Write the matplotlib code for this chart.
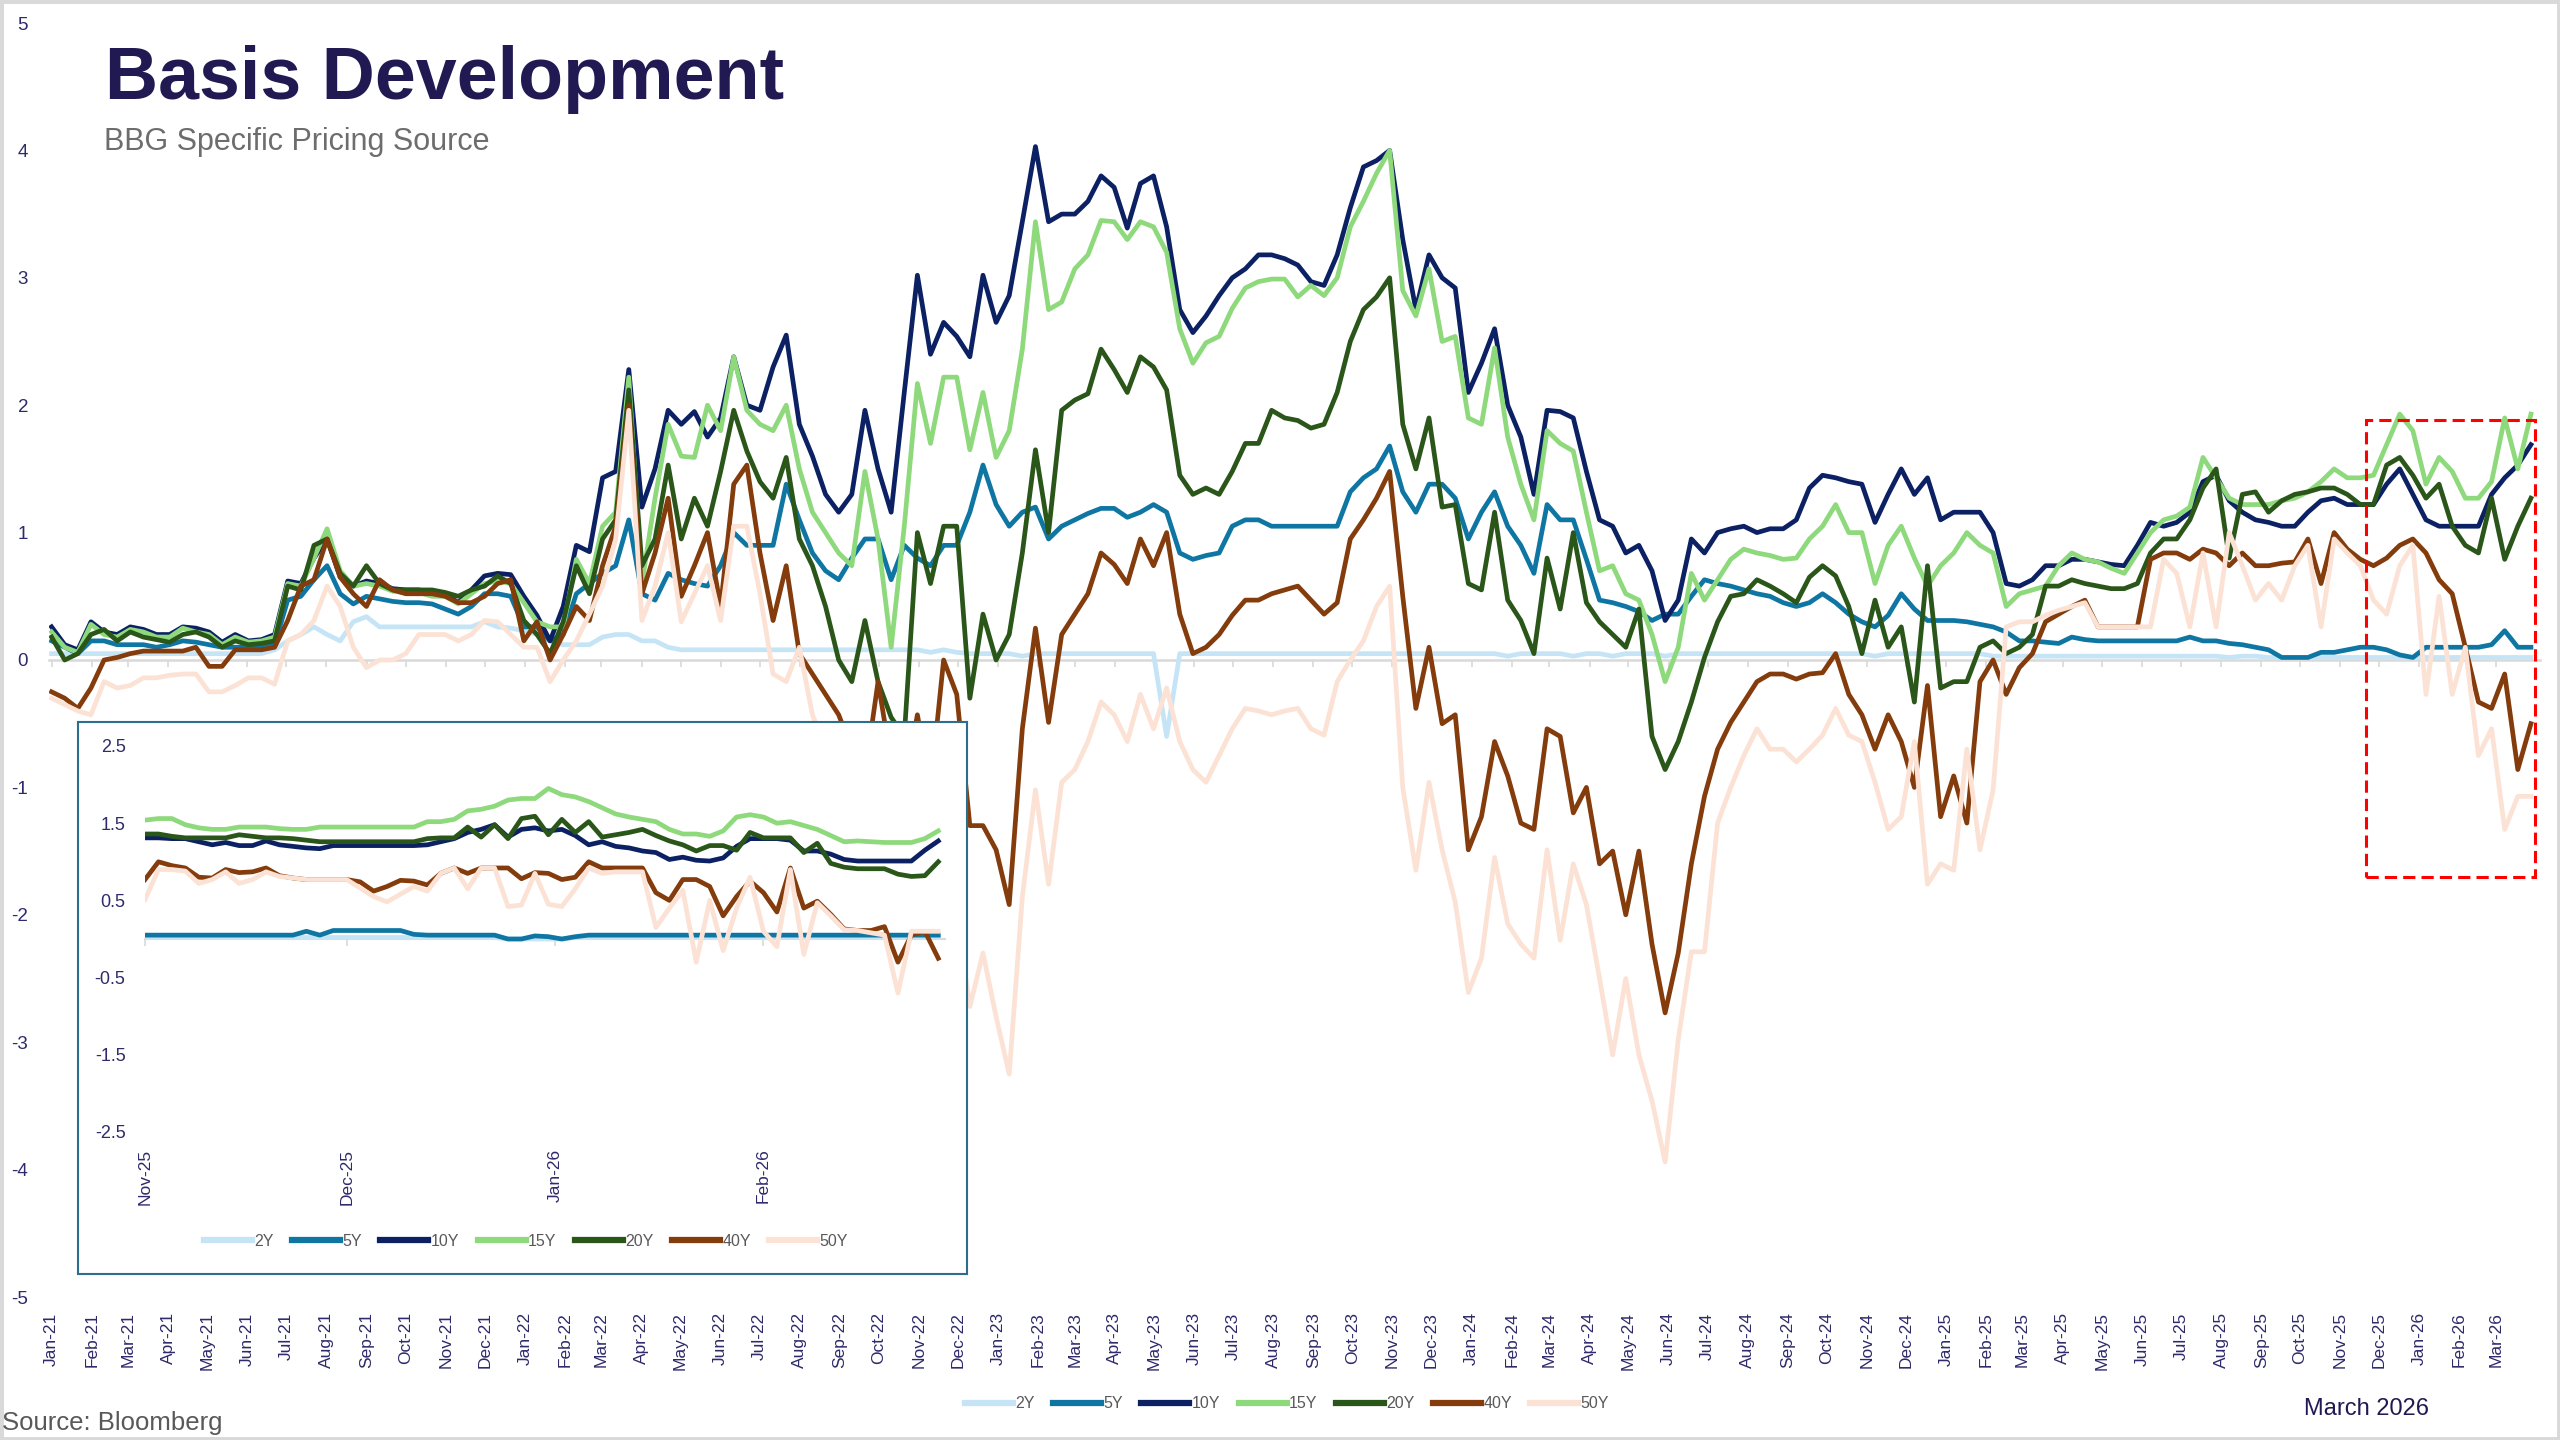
import pandas as pd
import numpy as np
import matplotlib
matplotlib.use('Agg')
import matplotlib.pyplot as plt
import matplotlib.dates as mdates
from matplotlib.patches import Rectangle

plt.rcParams['font.family'] = ['Liberation Sans', 'DejaVu Sans']
plt.rcParams['axes.unicode_minus'] = False

# %%
# Main chart: basis (bp) per tenor, ~3 readings per month, Jan-21 .. end Mar-26
tenors = ['2Y', '5Y', '10Y', '15Y', '20Y', '40Y', '50Y']
colors = ['#C5E5F6', '#0F76A3', '#0B2163', '#8ED97B', '#2A5619', '#843C0C', '#FBE2D5']
main_start = '2021-01-01'
main_end = '2026-03-28'

basis_2y = [
    0.05, 0.05, 0.05, 0.05, 0.05, 0.05, 0.05, 0.05, 0.05, 0.05, 0.05, 0.05, 0.05, 0.05, 0.05, 0.05, 0.05, 0.08,
    0.15, 0.20, 0.26, 0.20, 0.15, 0.30, 0.34, 0.26, 0.26, 0.26, 0.26, 0.26, 0.26, 0.26, 0.26, 0.30, 0.26, 0.25,
    0.23, 0.20, 0.15, 0.12, 0.12, 0.12, 0.18, 0.20, 0.20, 0.15, 0.15, 0.10, 0.08, 0.08, 0.08, 0.08, 0.08, 0.08,
    0.08, 0.08, 0.08, 0.08, 0.08, 0.08, 0.08, 0.08, 0.08, 0.08, 0.08, 0.08, 0.08, 0.06, 0.08, 0.06, 0.05, 0.05,
    0.05, 0.05, 0.03, 0.05, 0.05, 0.05, 0.05, 0.05, 0.05, 0.05, 0.05, 0.05, 0.05, -0.60, 0.05, 0.05, 0.05, 0.05,
    0.05, 0.05, 0.05, 0.05, 0.05, 0.05, 0.05, 0.05, 0.05, 0.05, 0.05, 0.05, 0.05, 0.05, 0.05, 0.05, 0.05, 0.05,
    0.05, 0.05, 0.05, 0.03, 0.05, 0.05, 0.05, 0.05, 0.03, 0.05, 0.05, 0.03, 0.05, 0.05, 0.05, 0.03, 0.05, 0.05,
    0.05, 0.05, 0.05, 0.05, 0.05, 0.05, 0.05, 0.05, 0.05, 0.05, 0.05, 0.05, 0.05, 0.03, 0.05, 0.05, 0.05, 0.05,
    0.05, 0.05, 0.05, 0.05, 0.03, 0.03, 0.03, 0.03, 0.03, 0.03, 0.03, 0.03, 0.03, 0.03, 0.03, 0.03, 0.03, 0.03,
    0.03, 0.03, 0.03, 0.03, 0.02, 0.03, 0.03, 0.02, 0.02, 0.02, 0.02, 0.02, 0.02, 0.02, 0.02, 0.02, 0.02, 0.02,
    0.02, 0.02, 0.02, 0.02, 0.02, 0.02, 0.02, 0.02, 0.02, 0.02]

basis_5y = [
    0.15, 0.10, 0.05, 0.15, 0.15, 0.12, 0.12, 0.12, 0.10, 0.12, 0.15, 0.14, 0.12, 0.10, 0.10, 0.10, 0.10, 0.12,
    0.47, 0.50, 0.63, 0.74, 0.52, 0.44, 0.50, 0.48, 0.46, 0.45, 0.45, 0.44, 0.40, 0.36, 0.42, 0.52, 0.52, 0.50,
    0.26, 0.26, 0.15, 0.20, 0.52, 0.60, 0.68, 0.74, 1.10, 0.52, 0.47, 0.68, 0.63, 0.60, 0.58, 0.74, 1.00, 0.90,
    0.90, 0.90, 1.38, 1.10, 0.84, 0.70, 0.63, 0.80, 0.95, 0.95, 0.63, 0.90, 0.80, 0.74, 0.90, 0.90, 1.16, 1.53,
    1.22, 1.05, 1.16, 1.20, 0.95, 1.05, 1.10, 1.15, 1.19, 1.19, 1.12, 1.16, 1.22, 1.16, 0.84, 0.79, 0.82, 0.84,
    1.05, 1.10, 1.10, 1.05, 1.05, 1.05, 1.05, 1.05, 1.05, 1.32, 1.43, 1.50, 1.68, 1.32, 1.16, 1.38, 1.38, 1.27,
    0.95, 1.16, 1.32, 1.05, 0.90, 0.68, 1.22, 1.10, 1.10, 0.79, 0.47, 0.45, 0.42, 0.38, 0.31, 0.36, 0.36, 0.50,
    0.63, 0.60, 0.58, 0.55, 0.52, 0.50, 0.45, 0.42, 0.45, 0.52, 0.45, 0.36, 0.30, 0.26, 0.35, 0.52, 0.40, 0.31,
    0.31, 0.31, 0.30, 0.28, 0.26, 0.22, 0.15, 0.15, 0.14, 0.13, 0.18, 0.16, 0.15, 0.15, 0.15, 0.15, 0.15, 0.15,
    0.15, 0.18, 0.15, 0.15, 0.13, 0.12, 0.10, 0.08, 0.02, 0.02, 0.02, 0.06, 0.06, 0.08, 0.10, 0.10, 0.08, 0.04,
    0.02, 0.10, 0.10, 0.10, 0.10, 0.10, 0.12, 0.23, 0.10, 0.10]

basis_10y = [
    0.26, 0.12, 0.08, 0.30, 0.22, 0.20, 0.26, 0.24, 0.20, 0.20, 0.26, 0.25, 0.22, 0.14, 0.20, 0.15, 0.16, 0.20,
    0.62, 0.60, 0.80, 0.95, 0.65, 0.58, 0.62, 0.60, 0.56, 0.55, 0.55, 0.52, 0.52, 0.45, 0.55, 0.66, 0.68, 0.67,
    0.50, 0.35, 0.15, 0.42, 0.90, 0.85, 1.43, 1.48, 2.28, 1.20, 1.50, 1.96, 1.85, 1.95, 1.75, 1.90, 2.38, 2.00,
    1.96, 2.30, 2.55, 1.85, 1.60, 1.30, 1.16, 1.30, 1.96, 1.50, 1.16, 2.10, 3.02, 2.40, 2.65, 2.54, 2.38, 3.02,
    2.65, 2.86, 3.44, 4.03, 3.44, 3.50, 3.50, 3.60, 3.80, 3.71, 3.39, 3.74, 3.80, 3.40, 2.75, 2.57, 2.70, 2.86,
    3.00, 3.07, 3.18, 3.18, 3.15, 3.10, 2.97, 2.94, 3.18, 3.55, 3.87, 3.92, 4.00, 3.30, 2.75, 3.18, 3.00, 2.92,
    2.10, 2.33, 2.60, 2.00, 1.75, 1.30, 1.96, 1.95, 1.90, 1.48, 1.10, 1.05, 0.84, 0.90, 0.70, 0.31, 0.47, 0.95,
    0.84, 1.00, 1.03, 1.05, 1.00, 1.03, 1.03, 1.10, 1.35, 1.45, 1.43, 1.40, 1.38, 1.08, 1.30, 1.50, 1.30, 1.43,
    1.10, 1.16, 1.16, 1.16, 1.00, 0.60, 0.58, 0.63, 0.74, 0.74, 0.79, 0.79, 0.77, 0.75, 0.74, 0.90, 1.08, 1.05,
    1.08, 1.16, 1.40, 1.45, 1.25, 1.16, 1.10, 1.08, 1.05, 1.05, 1.16, 1.25, 1.27, 1.22, 1.22, 1.22, 1.38, 1.50,
    1.30, 1.10, 1.05, 1.05, 1.05, 1.05, 1.30, 1.43, 1.53, 1.69]

basis_15y = [
    0.22, 0.10, 0.06, 0.28, 0.20, 0.18, 0.24, 0.22, 0.18, 0.18, 0.25, 0.22, 0.20, 0.12, 0.18, 0.14, 0.15, 0.18,
    0.60, 0.58, 0.80, 1.03, 0.70, 0.58, 0.60, 0.58, 0.54, 0.53, 0.53, 0.50, 0.50, 0.44, 0.52, 0.60, 0.62, 0.60,
    0.45, 0.30, 0.26, 0.26, 0.79, 0.60, 1.05, 1.16, 2.22, 0.60, 1.27, 1.85, 1.60, 1.59, 2.00, 1.80, 2.38, 1.96,
    1.85, 1.80, 2.00, 1.50, 1.16, 1.00, 0.84, 0.74, 1.48, 0.95, 0.10, 1.05, 2.17, 1.70, 2.22, 2.22, 1.65, 2.10,
    1.59, 1.80, 2.44, 3.44, 2.75, 2.81, 3.07, 3.18, 3.45, 3.44, 3.30, 3.44, 3.40, 3.20, 2.60, 2.33, 2.49, 2.54,
    2.76, 2.92, 2.97, 2.99, 2.99, 2.85, 2.94, 2.86, 3.00, 3.40, 3.60, 3.82, 4.00, 2.90, 2.70, 3.07, 2.50, 2.54,
    1.90, 1.85, 2.45, 1.75, 1.38, 1.10, 1.80, 1.70, 1.64, 1.16, 0.70, 0.74, 0.52, 0.47, 0.20, -0.17, 0.10, 0.68,
    0.47, 0.63, 0.79, 0.87, 0.84, 0.82, 0.79, 0.80, 0.95, 1.05, 1.22, 1.00, 1.00, 0.60, 0.90, 1.05, 0.80, 0.58,
    0.74, 0.84, 1.00, 0.90, 0.84, 0.42, 0.52, 0.55, 0.58, 0.74, 0.84, 0.79, 0.77, 0.72, 0.68, 0.84, 1.00, 1.10,
    1.13, 1.20, 1.59, 1.43, 1.27, 1.22, 1.22, 1.22, 1.25, 1.27, 1.32, 1.40, 1.50, 1.43, 1.43, 1.45, 1.69, 1.93,
    1.80, 1.38, 1.59, 1.48, 1.27, 1.27, 1.40, 1.90, 1.50, 1.93]

basis_20y = [
    0.18, 0.00, 0.05, 0.20, 0.24, 0.15, 0.22, 0.18, 0.16, 0.14, 0.20, 0.22, 0.18, 0.10, 0.15, 0.12, 0.13, 0.15,
    0.58, 0.55, 0.90, 0.95, 0.68, 0.58, 0.74, 0.60, 0.55, 0.55, 0.55, 0.55, 0.53, 0.50, 0.55, 0.58, 0.66, 0.60,
    0.31, 0.20, 0.05, 0.30, 0.74, 0.52, 0.95, 1.10, 2.12, 0.74, 0.95, 1.53, 0.95, 1.27, 1.05, 1.48, 1.96, 1.64,
    1.40, 1.27, 1.59, 0.95, 0.74, 0.42, 0.00, -0.17, 0.31, -0.17, -0.45, -0.60, 1.00, 0.60, 1.05, 1.05, -0.30, 0.36,
    0.00, 0.20, 0.84, 1.65, 1.00, 1.96, 2.04, 2.09, 2.44, 2.28, 2.10, 2.38, 2.30, 2.12, 1.45, 1.30, 1.35, 1.30,
    1.48, 1.70, 1.70, 1.96, 1.90, 1.88, 1.82, 1.85, 2.10, 2.50, 2.75, 2.85, 3.00, 1.85, 1.50, 1.90, 1.20, 1.22,
    0.60, 0.55, 1.16, 0.47, 0.31, 0.05, 0.80, 0.40, 1.00, 0.45, 0.30, 0.20, 0.10, 0.40, -0.60, -0.86, -0.64, -0.33,
    0.02, 0.30, 0.50, 0.52, 0.63, 0.58, 0.52, 0.45, 0.65, 0.74, 0.66, 0.42, 0.05, 0.47, 0.10, 0.26, -0.33, 0.74,
    -0.22, -0.17, -0.17, 0.10, 0.15, 0.05, 0.10, 0.20, 0.58, 0.58, 0.63, 0.60, 0.58, 0.56, 0.56, 0.60, 0.84, 0.95,
    0.95, 1.10, 1.35, 1.50, 0.80, 1.30, 1.32, 1.16, 1.25, 1.30, 1.32, 1.35, 1.35, 1.30, 1.22, 1.22, 1.53, 1.59,
    1.45, 1.27, 1.38, 1.05, 0.90, 0.84, 1.27, 0.79, 1.05, 1.27]

basis_40y = [
    -0.25, -0.30, -0.38, -0.22, 0.00, 0.02, 0.05, 0.07, 0.07, 0.07, 0.07, 0.10, -0.05, -0.05, 0.08, 0.08, 0.08, 0.10,
    0.31, 0.58, 0.63, 0.95, 0.65, 0.52, 0.42, 0.63, 0.55, 0.52, 0.52, 0.52, 0.50, 0.45, 0.45, 0.50, 0.60, 0.63,
    0.15, 0.30, 0.00, 0.20, 0.42, 0.31, 0.74, 1.05, 2.00, 0.52, 0.84, 1.27, 0.50, 0.74, 1.00, 0.42, 1.38, 1.53,
    0.84, 0.31, 0.74, 0.05, -0.11, -0.27, -0.43, -0.70, -0.90, -0.17, -0.80, -1.00, -0.43, -1.00, 0.00, -0.27, -1.30, -1.30,
    -1.49, -1.92, -0.54, 0.25, -0.49, 0.20, 0.36, 0.52, 0.84, 0.75, 0.60, 0.95, 0.74, 1.00, 0.36, 0.05, 0.10, 0.20,
    0.35, 0.47, 0.47, 0.52, 0.55, 0.58, 0.47, 0.36, 0.45, 0.95, 1.10, 1.27, 1.48, 0.50, -0.38, 0.10, -0.50, -0.43,
    -1.49, -1.23, -0.64, -0.91, -1.28, -1.33, -0.54, -0.60, -1.20, -1.00, -1.60, -1.50, -2.00, -1.50, -2.23, -2.77, -2.30, -1.60,
    -1.07, -0.70, -0.49, -0.33, -0.17, -0.11, -0.11, -0.15, -0.11, -0.10, 0.05, -0.27, -0.43, -0.70, -0.43, -0.64, -1.00, -0.20,
    -1.23, -0.91, -1.28, -0.17, 0.00, -0.27, -0.06, 0.05, 0.30, 0.36, 0.42, 0.47, 0.26, 0.26, 0.26, 0.26, 0.79, 0.84,
    0.84, 0.79, 0.87, 0.84, 0.74, 0.84, 0.74, 0.74, 0.76, 0.77, 0.95, 0.60, 1.00, 0.87, 0.79, 0.74, 0.80, 0.90,
    0.95, 0.84, 0.63, 0.52, 0.10, -0.33, -0.38, -0.11, -0.86, -0.50]

basis_50y = [
    -0.30, -0.35, -0.40, -0.43, -0.17, -0.22, -0.20, -0.14, -0.14, -0.12, -0.11, -0.11, -0.25, -0.25, -0.20, -0.14, -0.14, -0.19,
    0.15, 0.20, 0.31, 0.58, 0.42, 0.10, -0.06, 0.00, 0.00, 0.05, 0.20, 0.20, 0.20, 0.15, 0.20, 0.31, 0.30, 0.20,
    0.10, 0.10, -0.17, 0.00, 0.15, 0.36, 0.58, 0.95, 1.96, 0.31, 0.58, 1.00, 0.30, 0.52, 0.74, 0.31, 1.05, 1.05,
    0.52, -0.11, -0.17, 0.10, -0.43, -0.70, -0.80, -1.00, -0.90, -1.10, -1.30, -1.20, -1.40, -1.50, -1.60, -2.00, -2.72, -2.30,
    -2.80, -3.25, -1.86, -1.02, -1.76, -0.96, -0.86, -0.64, -0.33, -0.43, -0.64, -0.27, -0.54, -0.22, -0.64, -0.86, -0.96, -0.75,
    -0.54, -0.38, -0.40, -0.43, -0.40, -0.38, -0.54, -0.59, -0.17, 0.00, 0.15, 0.42, 0.58, -1.00, -1.65, -0.96, -1.49, -1.90,
    -2.61, -2.34, -1.55, -2.07, -2.23, -2.34, -1.49, -2.20, -1.60, -1.92, -2.50, -3.10, -2.50, -3.10, -3.46, -3.94, -2.98, -2.29,
    -2.29, -1.28, -1.00, -0.75, -0.54, -0.70, -0.70, -0.80, -0.70, -0.59, -0.38, -0.59, -0.64, -0.96, -1.33, -1.23, -0.64, -1.76,
    -1.60, -1.65, -0.70, -1.49, -1.02, 0.26, 0.30, 0.30, 0.35, 0.39, 0.42, 0.45, 0.26, 0.26, 0.26, 0.26, 0.26, 0.79,
    0.68, 0.26, 0.84, 0.26, 1.00, 0.74, 0.47, 0.60, 0.47, 0.74, 0.90, 0.26, 0.95, 0.84, 0.74, 0.47, 0.36, 0.74,
    0.90, -0.27, 0.50, -0.27, 0.10, -0.75, -0.54, -1.33, -1.07, -1.07]

main_series = [basis_2y, basis_5y, basis_10y, basis_15y, basis_20y, basis_40y, basis_50y]

# Inset: every second day, 1 Nov 2025 .. 27 Feb 2026
zoom_start = '2025-11-01'
zoom_end = '2026-02-27'

zoom_2y = [
    0.02, 0.02, 0.02, 0.02, 0.02, 0.02, 0.02, 0.02, 0.02, 0.02, 0.02, 0.02, 0.02, 0.02, 0.02,
    0.02, 0.02, 0.02, 0.02, 0.02, 0.02, 0.02, 0.02, 0.02, 0.02, 0.02, 0.02, 0.00, 0.00, 0.00,
    0.00, 0.00, 0.02, 0.02, 0.02, 0.02, 0.02, 0.02, 0.02, 0.02, 0.02, 0.02, 0.02, 0.02, 0.02,
    0.02, 0.02, 0.02, 0.02, 0.02, 0.02, 0.02, 0.02, 0.02, 0.02, 0.02, 0.02, 0.02, 0.02, 0.02]
zoom_5y = [
    0.05, 0.05, 0.05, 0.05, 0.05, 0.05, 0.05, 0.05, 0.05, 0.05, 0.05, 0.05, 0.10, 0.05, 0.11,
    0.11, 0.11, 0.11, 0.11, 0.11, 0.06, 0.05, 0.05, 0.05, 0.05, 0.05, 0.05, 0.00, 0.00, 0.04,
    0.03, 0.00, 0.03, 0.05, 0.05, 0.05, 0.05, 0.05, 0.05, 0.05, 0.05, 0.05, 0.05, 0.05, 0.05,
    0.05, 0.05, 0.05, 0.05, 0.05, 0.05, 0.05, 0.05, 0.05, 0.05, 0.05, 0.05, 0.05, 0.05, 0.05]
zoom_10y = [
    1.31, 1.31, 1.30, 1.30, 1.26, 1.22, 1.25, 1.21, 1.21, 1.27, 1.22, 1.20, 1.18, 1.17, 1.21,
    1.21, 1.21, 1.21, 1.21, 1.21, 1.21, 1.22, 1.26, 1.30, 1.38, 1.42, 1.48, 1.32, 1.42, 1.44,
    1.40, 1.42, 1.34, 1.22, 1.26, 1.20, 1.18, 1.14, 1.12, 1.03, 1.06, 1.02, 1.01, 1.05, 1.20,
    1.30, 1.30, 1.30, 1.28, 1.14, 1.14, 1.10, 1.03, 1.01, 1.01, 1.01, 1.01, 1.01, 1.15, 1.27]
zoom_15y = [
    1.54, 1.56, 1.56, 1.48, 1.44, 1.42, 1.42, 1.45, 1.45, 1.45, 1.43, 1.42, 1.42, 1.45, 1.45,
    1.45, 1.45, 1.45, 1.45, 1.45, 1.45, 1.52, 1.52, 1.55, 1.66, 1.68, 1.72, 1.80, 1.82, 1.82,
    1.95, 1.87, 1.84, 1.78, 1.70, 1.62, 1.58, 1.55, 1.52, 1.42, 1.36, 1.36, 1.33, 1.40, 1.58,
    1.61, 1.58, 1.50, 1.52, 1.47, 1.42, 1.34, 1.26, 1.27, 1.26, 1.25, 1.25, 1.25, 1.30, 1.40]
zoom_20y = [
    1.36, 1.36, 1.33, 1.31, 1.31, 1.31, 1.31, 1.35, 1.33, 1.31, 1.31, 1.30, 1.28, 1.26, 1.26,
    1.26, 1.26, 1.26, 1.26, 1.26, 1.26, 1.30, 1.31, 1.31, 1.45, 1.32, 1.48, 1.30, 1.56, 1.59,
    1.35, 1.55, 1.38, 1.52, 1.32, 1.35, 1.38, 1.42, 1.34, 1.27, 1.22, 1.14, 1.21, 1.21, 1.15,
    1.38, 1.31, 1.31, 1.31, 1.12, 1.24, 0.98, 0.93, 0.91, 0.91, 0.91, 0.84, 0.81, 0.82, 1.00]
zoom_40y = [
    0.77, 1.00, 0.95, 0.92, 0.80, 0.79, 0.90, 0.86, 0.87, 0.92, 0.82, 0.79, 0.77, 0.77, 0.77,
    0.77, 0.74, 0.62, 0.68, 0.76, 0.75, 0.70, 0.85, 0.92, 0.85, 0.92, 0.92, 0.92, 0.78, 0.86,
    0.85, 0.77, 0.80, 1.00, 0.92, 0.92, 0.92, 0.92, 0.60, 0.50, 0.77, 0.77, 0.68, 0.30, 0.55,
    0.75, 0.60, 0.35, 0.92, 0.40, 0.49, 0.32, 0.13, 0.11, 0.11, 0.16, -0.30, 0.05, 0.10, -0.25]
zoom_50y = [
    0.51, 0.90, 0.90, 0.88, 0.72, 0.77, 0.87, 0.72, 0.77, 0.87, 0.81, 0.79, 0.77, 0.77, 0.77,
    0.77, 0.66, 0.55, 0.48, 0.58, 0.68, 0.62, 0.85, 0.92, 0.65, 0.92, 0.92, 0.42, 0.44, 0.85,
    0.45, 0.42, 0.65, 0.92, 0.85, 0.87, 0.87, 0.87, 0.15, 0.40, 0.63, -0.30, 0.50, -0.15, 0.40,
    0.80, 0.10, -0.10, 0.90, -0.20, 0.47, 0.30, 0.12, 0.11, 0.08, 0.05, -0.70, 0.10, 0.10, 0.10]

zoom_series = [zoom_2y, zoom_5y, zoom_10y, zoom_15y, zoom_20y, zoom_40y, zoom_50y]

# highlighted window on the main chart (dates, value range)
box_start, box_end = '2025-11-21', '2026-03-31'
box_low, box_high = -1.70, 1.88

month_ticks = pd.date_range('2021-01-01', '2026-03-01', freq='MS')
zoom_ticks = pd.date_range('2025-11-01', '2026-02-01', freq='MS')
zoom_yticks = [-2.5, -1.5, -0.5, 0.5, 1.5, 2.5]

# %%
W, H = 2560, 1440
tick_col = '#2E2A6B'
grey_txt = '#595959'
zero_col = '#D9D9D9'


def px_box(x0, y0, x1, y1):
    # pixel box (top-left origin) -> figure fraction rect
    return [x0 / W, 1 - y1 / H, (x1 - x0) / W, (y1 - y0) / H]


fig = plt.figure(figsize=(25.6, 14.4), dpi=100, facecolor='white')

ax = fig.add_axes(px_box(49, 23, 2540, 1297))
for name, vals, col in zip(tenors, main_series, colors):
    dates = pd.date_range(main_start, main_end, periods=len(vals))
    ax.plot(dates, vals, color=col, lw=3.4, solid_joinstyle='round', label=name)

ax.set_ylim(-5, 5)
ax.set_xlim(pd.Timestamp('2020-12-30'), pd.Timestamp('2026-04-04'))
ax.set_yticks(range(-5, 6))
ax.tick_params(axis='y', length=0, pad=15, labelsize=13.5, labelcolor=tick_col)
for s in ['top', 'right', 'left']:
    ax.spines[s].set_visible(False)
ax.spines['bottom'].set_position(('data', 0))
ax.spines['bottom'].set_color(zero_col)
ax.spines['bottom'].set_linewidth(1.8)
ax.spines['bottom'].set_zorder(1)
ax.set_xticks(mdates.date2num(month_ticks))
ax.tick_params(axis='x', direction='out', length=5, width=1.2, color=zero_col, labelbottom=False)

sec = ax.secondary_xaxis('bottom')
sec.set_xticks(mdates.date2num(month_ticks), labels=[d.strftime('%b-%y') for d in month_ticks])
sec.tick_params(length=0, pad=11, labelsize=12.5, labelcolor=tick_col, labelrotation=90)
sec.spines['bottom'].set_visible(False)

x0 = mdates.date2num(pd.Timestamp(box_start))
x1 = mdates.date2num(pd.Timestamp(box_end))
ax.add_patch(Rectangle((x0, box_low), x1 - x0, box_high - box_low, fill=False,
                       edgecolor='#FF0000', lw=2.2, linestyle=(0, (4, 2)), zorder=6))

leg = ax.legend(loc='center', bbox_to_anchor=(1287 / W, 1 - 1404 / H), bbox_transform=fig.transFigure,
                ncol=7, frameon=False, fontsize=11.5, handlelength=3.0, handletextpad=0.15,
                columnspacing=1.15, labelcolor=grey_txt)
for h in leg.get_lines():
    h.set_linewidth(4.5)

# %%
# inset panel
box_ax = fig.add_axes(px_box(78, 722, 967, 1274), zorder=3)
box_ax.set_facecolor('white')
box_ax.set_xticks([])
box_ax.set_yticks([])
for s in box_ax.spines.values():
    s.set_color('#2C6E8C')
    s.set_linewidth(1.5)

ax_in = fig.add_axes(px_box(145, 746, 945, 1132), zorder=4)
ax_in.set_facecolor('none')
for name, vals, col in zip(tenors, zoom_series, colors):
    dates = pd.date_range(zoom_start, zoom_end, periods=len(vals))
    ax_in.plot(dates, vals, color=col, lw=3.4, solid_joinstyle='round', label=name)

ax_in.set_ylim(-2.5, 2.5)
ax_in.set_xlim(pd.Timestamp('2025-11-01'), pd.Timestamp('2026-02-28'))
ax_in.set_yticks(zoom_yticks, labels=[f'{v:g}' for v in zoom_yticks])
ax_in.tick_params(axis='y', length=0, pad=14, labelsize=13, labelcolor=tick_col)
for s in ['top', 'right', 'left']:
    ax_in.spines[s].set_visible(False)
ax_in.spines['bottom'].set_position(('data', 0))
ax_in.spines['bottom'].set_color(zero_col)
ax_in.spines['bottom'].set_linewidth(1.5)
ax_in.spines['bottom'].set_zorder(1)
ax_in.set_xticks(mdates.date2num(zoom_ticks))
ax_in.tick_params(axis='x', direction='out', length=5, width=1.2, color=zero_col, labelbottom=False)

sec_in = ax_in.secondary_xaxis('bottom')
sec_in.set_xticks(mdates.date2num(zoom_ticks), labels=[d.strftime('%b-%y') for d in zoom_ticks])
sec_in.tick_params(length=0, pad=12, labelsize=12.5, labelcolor=tick_col, labelrotation=90)
sec_in.spines['bottom'].set_visible(False)

leg_in = ax_in.legend(loc='center', bbox_to_anchor=(526 / W, 1 - 1241 / H), bbox_transform=fig.transFigure,
                      ncol=7, frameon=False, fontsize=11.5, handlelength=3.0, handletextpad=0.15,
                      columnspacing=1.15, labelcolor=grey_txt)
for h in leg_in.get_lines():
    h.set_linewidth(4.5)

# %%
# titles and footer
fig.text(105 / W, 1 - 99 / H, 'Basis Development', fontsize=53, fontweight='bold',
         color='#211A52', va='baseline', ha='left')
fig.text(104 / W, 1 - 150 / H, 'BBG Specific Pricing Source', fontsize=22,
         color='#6D6D6D', va='baseline', ha='left')
fig.text(2 / W, 1 - 1430 / H, 'Source: Bloomberg', fontsize=18.5, color=grey_txt, va='baseline', ha='left')
fig.text(2304 / W, 1 - 1415 / H, 'March 2026', fontsize=17, color='#211A52', va='baseline', ha='left')

fig.add_artist(Rectangle((0, 0), 1, 1, transform=fig.transFigure, fill=False, edgecolor='#D9D9D9', lw=5))

fig.savefig('out.png', dpi=100, facecolor='white')
